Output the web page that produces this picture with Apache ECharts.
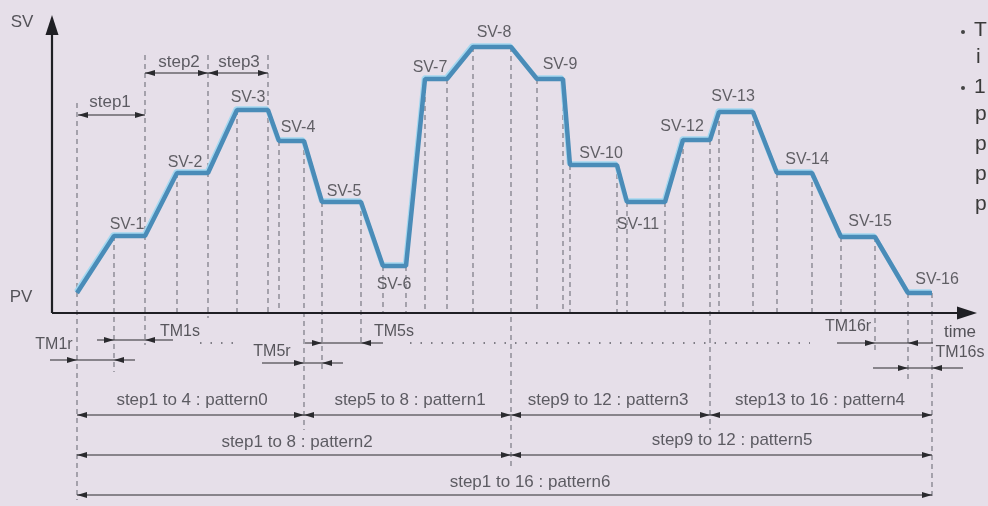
<!DOCTYPE html>
<html>
<head>
<meta charset="utf-8">
<title>SV ramp / soak pattern</title>
<script src="https://cdn.jsdelivr.net/npm/echarts@6/dist/echarts.min.js"></script>
<style>
  html, body { margin: 0; padding: 0; background: #e6dfe9; }
  #chart { width: 988px; height: 506px; }
</style>
</head>
<body>
<div id="chart"></div>
<script>
// time runs right from the SV axis, SV runs up from the time axis (below 0 = annotation rows)
const profileX = [25, 62, 93, 125, 156, 185, 216, 227, 252, 270, 309, 331, 354, 373, 395, 421, 459, 485, 511, 518, 565, 575, 613, 631, 658, 667, 701, 725, 760, 789, 823, 856, 880]
const profileY = [20, 77, 77, 140, 140, 203, 203, 172, 172, 111, 111, 47, 47, 234, 234, 266, 266, 234, 234, 148, 148, 111, 111, 173, 173, 201, 201, 140, 140, 76, 76, 20, 20]
// how far each dashed guide goes under the time axis (0 = stops at the axis)
const guideBottom = [-187, -59, -32, 0, -5, 0, 0, 0, -117, -59, -32, 0, 0, 0, 0, 0, -154, 0, 0, 0, 0, 0, 0, 0, -117, 0, 0, 0, 0, 0, -39, -67, -187]
// guides that go up above the curve (step1..step3 marks)
const guideTopX = [25, 93, 156, 216]
const guideTopY = [210, 258, 258, 258]

const svNames = ['SV-1', 'SV-2', 'SV-3', 'SV-4', 'SV-5', 'SV-6', 'SV-7', 'SV-8', 'SV-9', 'SV-10', 'SV-11', 'SV-12', 'SV-13', 'SV-14', 'SV-15', 'SV-16']
const svLabelX = [75, 133, 196, 246, 292, 342, 378, 442, 508, 549, 586, 630, 681, 755, 818, 885]
const svLabelY = [88, 150, 215, 185, 121, 28, 245, 280, 248, 159, 88, 186, 216, 153, 91, 33]

// ramp / soak time marks: arrows point in to the two tips
const dimNames = ['TM1r', 'TM1s', 'TM5r', 'TM5s', 'TM16r', 'TM16s']
const dimY = [-47, -27, -50, -30, -30, -55]
const dimFrom = [-2, 45, 210, 253, 785, 821]
const dimTo = [83, 121, 291, 331, 881, 911]
const dimTipR = [25, 62, 252, 270, 823, 856]
const dimTipL = [62, 93, 270, 309, 856, 880]
const dimLabelX = [2, 128, 220, 342, 796, 908]
const dimLabelY = [-32, -19, -39, -19, -14, -40]

// step / pattern spans: arrows point out to both ends
const spanNames = ['step1', 'step2', 'step3', 'step1 to 4 : pattern0', 'step5 to 8 : pattern1', 'step9 to 12 : pattern3', 'step13 to 16 : pattern4', 'step1 to 8 : pattern2', 'step9 to 12 : pattern5', 'step1 to 16 : pattern6']
const spanY = [198, 240, 240, -102, -102, -102, -102, -142, -142, -182]
const spanFrom = [26, 93, 156, 25, 252, 459, 658, 25, 459, 25]
const spanTo = [93, 156, 216, 252, 459, 658, 880, 459, 880, 880]
const spanLabelX = [58, 127, 187, 140, 358, 556, 768, 245, 680, 478]
const spanLabelY = [211, 251, 251, -87, -87, -87, -87, -129, -127, -169]

const dotFrom = [148, 358]
const dotTo = [181, 758]
const dotY = -30

const axisNames = ['SV', 'PV', 'time']
const axisLabelX = [-30, -31, 908]
const axisLabelY = [291, 16, -19]

const FONT = '"Liberation Sans", Arial, sans-serif'
const INK = '#2a2a2e'

function head(tip, dir, len, half) {
  const bx = tip[0] - dir[0] * len
  const by = tip[1] - dir[1] * len
  return [tip, [bx - dir[1] * half, by + dir[0] * half], [bx + dir[1] * half, by - dir[0] * half]]
}

function labelSeries(xs, ys, names, size, color) {
  return {
    type: 'scatter',
    silent: true,
    clip: false,
    symbolSize: 1,
    itemStyle: { color: 'transparent' },
    z: 10,
    label: {
      show: true,
      position: 'inside',
      formatter: '{b}',
      fontFamily: FONT,
      fontSize: size,
      color: color
    },
    data: names.map((n, i) => ({ name: n, value: [xs[i], ys[i]] }))
  }
}

const guideData = profileX.map((x, i) => {
  const k = guideTopX.indexOf(x)
  const top = k >= 0 ? Math.max(guideTopY[k], profileY[i]) : profileY[i]
  return [x, top, guideBottom[i]]
})

// double-headed rows: [y, from, to, right-pointing tip, left-pointing tip]
const arrowRows = dimY.map((y, i) => [y, dimFrom[i], dimTo[i], dimTipR[i], dimTipL[i]])
  .concat(spanY.map((y, i) => [y, spanFrom[i], spanTo[i], spanTo[i], spanFrom[i]]))

const chart = echarts.init(document.getElementById('chart'))

chart.setOption({
  backgroundColor: '#e6dfe9',
  animation: false,
  grid: { left: 52, right: 6, top: 15, bottom: 0 },
  xAxis: { type: 'value', min: 0, max: 930, show: false },
  yAxis: { type: 'value', min: -193, max: 298, show: false },
  series: [
    {
      // dashed guides
      type: 'custom',
      silent: true,
      z: 1,
      renderItem(params, api) {
        const a = api.coord([api.value(0), api.value(1)])
        const b = api.coord([api.value(0), api.value(2)])
        return {
          type: 'line',
          shape: { x1: a[0], y1: a[1], x2: b[0], y2: b[1] },
          style: { stroke: '#6f6f7a', lineWidth: 1.1, lineDash: [5, 4] }
        }
      },
      data: guideData
    },
    {
      // dotted row under the axis
      type: 'custom',
      silent: true,
      z: 1,
      renderItem(params, api) {
        const a = api.coord([api.value(0), dotY])
        const b = api.coord([api.value(1), dotY])
        return {
          type: 'line',
          shape: { x1: a[0], y1: a[1], x2: b[0], y2: b[1] },
          style: { stroke: '#5e5e66', lineWidth: 1.5, lineDash: [1.5, 9] }
        }
      },
      data: dotFrom.map((x, i) => [x, dotTo[i]])
    },
    {
      // axes with arrow heads
      type: 'custom',
      silent: true,
      z: 3,
      renderItem(params, api) {
        const o = api.coord([0, 0])
        const e = api.coord([api.value(0), api.value(1)])
        const len = Math.hypot(e[0] - o[0], e[1] - o[1])
        const dir = [(e[0] - o[0]) / len, (e[1] - o[1]) / len]
        return {
          type: 'group',
          children: [
            { type: 'line', shape: { x1: o[0], y1: o[1], x2: e[0] - dir[0] * 8, y2: e[1] - dir[1] * 8 }, style: { stroke: '#1f1f24', lineWidth: 2.2 } },
            { type: 'polygon', shape: { points: head(e, dir, 20, 6.5) }, style: { fill: '#1f1f24' } }
          ]
        }
      },
      data: [[0, 298], [925, 0]]
    },
    {
      // dimension arrows
      type: 'custom',
      silent: true,
      z: 4,
      renderItem(params, api) {
        const y = api.value(0)
        const a = api.coord([api.value(1), y])
        const b = api.coord([api.value(2), y])
        const r = api.coord([api.value(3), y])
        const l = api.coord([api.value(4), y])
        return {
          type: 'group',
          children: [
            { type: 'line', shape: { x1: a[0], y1: a[1], x2: b[0], y2: b[1] }, style: { stroke: INK, lineWidth: 1.2 } },
            { type: 'polygon', shape: { points: head(r, [1, 0], 10, 3) }, style: { fill: INK } },
            { type: 'polygon', shape: { points: head(l, [-1, 0], 10, 3) }, style: { fill: INK } }
          ]
        }
      },
      data: arrowRows
    },
    {
      name: 'SV',
      type: 'line',
      z: 5,
      symbol: 'none',
      silent: true,
      lineStyle: {
        color: '#4a8cb8',
        width: 4.5,
        shadowColor: 'rgba(160,215,240,0.95)',
        shadowOffsetX: -1,
        shadowOffsetY: -1.5
      },
      data: profileX.map((x, i) => [x, profileY[i]])
    },
    labelSeries(svLabelX, svLabelY, svNames, 16, '#3e3e44'),
    labelSeries(dimLabelX, dimLabelY, dimNames, 16, '#333338'),
    labelSeries(spanLabelX, spanLabelY, spanNames, 17, '#3a3a40'),
    labelSeries(axisLabelX, axisLabelY, axisNames, 17, '#2e2e33')
  ],
  graphic: [
    // edge of the neighbouring paragraph, cut by the frame
    { type: 'circle', shape: { cx: 963, cy: 32, r: 2 }, style: { fill: '#444' } },
    { type: 'circle', shape: { cx: 963, cy: 88, r: 2 }, style: { fill: '#444' } },
    { type: 'text', left: 974, top: 20, style: { text: 'T', font: '21px ' + FONT, fill: '#3a3a3a' } },
    { type: 'text', left: 976, top: 47, style: { text: 'i', font: '21px ' + FONT, fill: '#3a3a3a' } },
    { type: 'text', left: 974, top: 77, style: { text: '1', font: '21px ' + FONT, fill: '#3a3a3a' } },
    { type: 'text', left: 975, top: 104, style: { text: 'p', font: '21px ' + FONT, fill: '#3a3a3a' } },
    { type: 'text', left: 975, top: 134, style: { text: 'p', font: '21px ' + FONT, fill: '#3a3a3a' } },
    { type: 'text', left: 975, top: 164, style: { text: 'p', font: '21px ' + FONT, fill: '#3a3a3a' } },
    { type: 'text', left: 975, top: 194, style: { text: 'p', font: '21px ' + FONT, fill: '#3a3a3a' } }
  ]
})
</script>
</body>
</html>
